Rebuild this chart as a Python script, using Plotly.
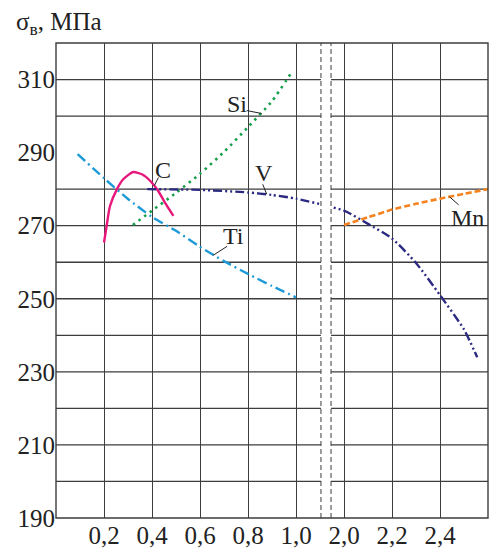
import plotly.graph_objects as go

# ---------------- data (x in mass %, y = sigma_B in MPa) ----------------
c_x = [0.20, 0.21, 0.225, 0.254, 0.28, 0.322, 0.36, 0.392, 0.426, 0.454, 0.489]
c_y = [265.4, 269.5, 275.4, 280.0, 282.7, 284.7, 284.0, 282.3, 279.5, 276.3, 272.7]

si_x = [0.32, 0.40, 0.50, 0.60, 0.70, 0.80, 0.90, 0.985]
si_y = [270.2, 274.1, 279.0, 284.2, 290.2, 297.0, 304.1, 312.3]

ti_x = [0.09, 0.20, 0.30, 0.40, 0.50, 0.60, 0.70, 0.80, 0.90, 1.00]
ti_y = [289.6, 283.0, 277.3, 272.4, 268.6, 264.2, 260.3, 256.8, 253.5, 250.4]

v_x = [0.38, 0.60, 0.80, 0.90, 1.00, 2.00, 2.10, 2.20, 2.30, 2.40, 2.50, 2.555]
v_y = [280.0, 279.8, 279.1, 278.4, 277.4, 274.1, 270.5, 266.5, 259.8, 251.0, 241.6, 234.0]

mn_x = [2.0, 2.1, 2.2, 2.3, 2.4, 2.5, 2.6]
mn_y = [270.2, 272.3, 274.4, 276.0, 277.4, 278.7, 280.0]

x_tick_vals = [0.2, 0.4, 0.6, 0.8, 1.0, 2.0, 2.2, 2.4, 2.6]
x_tick_text = ["0,2", "0,4", "0,6", "0,8", "1,0", "2,0", "2,2", "2,4", "%"]
y_tick_vals = [190, 210, 230, 250, 270, 290, 310]
y_tick_text = ["190", "210", "230", "250", "270", "290", "310"]
y_grid_vals = [200, 210, 220, 230, 240, 250, 260, 270, 280, 300, 310]

labels = ["Si", "C", "V", "Ti", "Mn"]
label_x = [0.857, 0.41, 0.878, 0.655, 2.44]
label_y = [300.7, 281.0, 278.6, 261.9, 277.9]

# ---------------- broken axis transform ----------------
BREAK_SHIFT = 0.8          # 2.0 is drawn one grid step after 1.0


def tx(v):
    return v if v <= 1.0 + 1e-9 else v - BREAK_SHIFT


def txs(vals):
    return [tx(v) for v in vals]


FONT = "Liberation Serif, Times New Roman, serif"
GRID = "#3d3d3d"
TXT = "#222222"

W, H = 497, 549
ML, MR, MT, MB = 56, 9, 43, 31
pw, ph = W - ML - MR, H - MT - MB
X_RANGE = [0, 1.8]
Y_RANGE = [190, 320]
px_x = pw / (X_RANGE[1] - X_RANGE[0])   # pixels per x unit
px_y = ph / (Y_RANGE[1] - Y_RANGE[0])   # pixels per y unit

fig = go.Figure()

series = [
    (ti_x, ti_y, "#1e9ad6", "10px,4px,2px,4px", 2.4),
    (si_x, si_y, "#17a04b", "2.5px,4.5px", 2.6),
    (c_x, c_y, "#e8177c", "solid", 2.4),
    (v_x, v_y, "#2c2a80", "9px,3px,2px,3px,2px,3px", 2.4),
    (mn_x, mn_y, "#f5821f", "6px,3px", 2.6),
]
for xs, ys, col, dash, w in series:
    fig.add_trace(go.Scatter(
        x=txs(xs), y=ys, mode="lines",
        line=dict(color=col, width=w, dash=dash, shape="spline", smoothing=0.6),
        showlegend=False, hoverinfo="skip"))

shapes = []
# horizontal grid lines (no line at 290 in the original)
for gy in y_grid_vals:
    shapes.append(dict(type="line", xref="paper", x0=0, x1=1, yref="y", y0=gy, y1=gy,
                       line=dict(color=GRID, width=1.3), layer="below"))
# white gap of the axis break
gap_l, gap_r = 1.104, 1.146
shapes.append(dict(type="rect", xref="x", x0=gap_l, x1=gap_r, yref="y", y0=190, y1=320,
                   fillcolor="white", line=dict(width=0), layer="above"))
for gx in (gap_l, gap_r):
    shapes.append(dict(type="line", xref="x", x0=gx, x1=gx, yref="y", y0=190, y1=320,
                       line=dict(color=GRID, width=1, dash="5px,3px"), layer="above"))
# frame
shapes.append(dict(type="rect", xref="paper", x0=0, x1=1, yref="paper", y0=0, y1=1,
                   line=dict(color=GRID, width=1.4), layer="above"))

annotations = []
# leader line end offsets (pixels, screen: +x right, +y down) and label offsets
leader = {"Si": (-15, -3), "C": (4, -8), "V": (-4, -10), "Ti": (14, -9), "Mn": (9, 8)}
text_off = {"Si": (-25, 10), "C": (9, 16), "V": (-3, 21), "Ti": (20, 19), "Mn": (18, -21)}
for name, lx, ly in zip(labels, label_x, label_y):
    ax, ay = leader[name]
    x0 = tx(lx)
    shapes.append(dict(type="line", xref="x", yref="y", x0=x0, y0=ly,
                       x1=x0 + ax / px_x, y1=ly - ay / px_y,
                       line=dict(color=TXT, width=1), layer="above"))
    dx, dy = text_off[name]
    annotations.append(dict(x=x0, y=ly, xref="x", yref="y", text=name, showarrow=False,
                            xshift=dx, yshift=dy, font=dict(family=FONT, size=24, color=TXT)))
annotations.append(dict(x=(14 - ML) / pw, y=(H - MB - 23) / ph, xref="paper", yref="paper",
                        text="σ<sub>в</sub>, МПа", showarrow=False,
                        xanchor="left", yanchor="middle",
                        font=dict(family=FONT, size=25, color=TXT)))

fig.update_layout(
    width=W, height=H,
    margin=dict(l=ML, r=MR, t=MT, b=MB, autoexpand=False),
    paper_bgcolor="white", plot_bgcolor="white",
    shapes=shapes, annotations=annotations,
    font=dict(family=FONT, size=25, color=TXT),
    xaxis=dict(range=X_RANGE, tickmode="array", tickvals=txs(x_tick_vals), ticktext=x_tick_text,
               showgrid=True, gridcolor=GRID, gridwidth=1.3, zeroline=False, showline=False,
               ticks="", automargin=False, tickfont=dict(family=FONT, size=25, color=TXT)),
    yaxis=dict(range=Y_RANGE, tickmode="array", tickvals=y_tick_vals, ticktext=y_tick_text,
               showgrid=False, zeroline=False, showline=False, ticks="", automargin=False,
               tickfont=dict(family=FONT, size=25, color=TXT)),
)

fig.write_html("out.html", config={"displayModeBar": False},
               post_script="document.body.style.margin='0';document.body.style.overflow='hidden';")
